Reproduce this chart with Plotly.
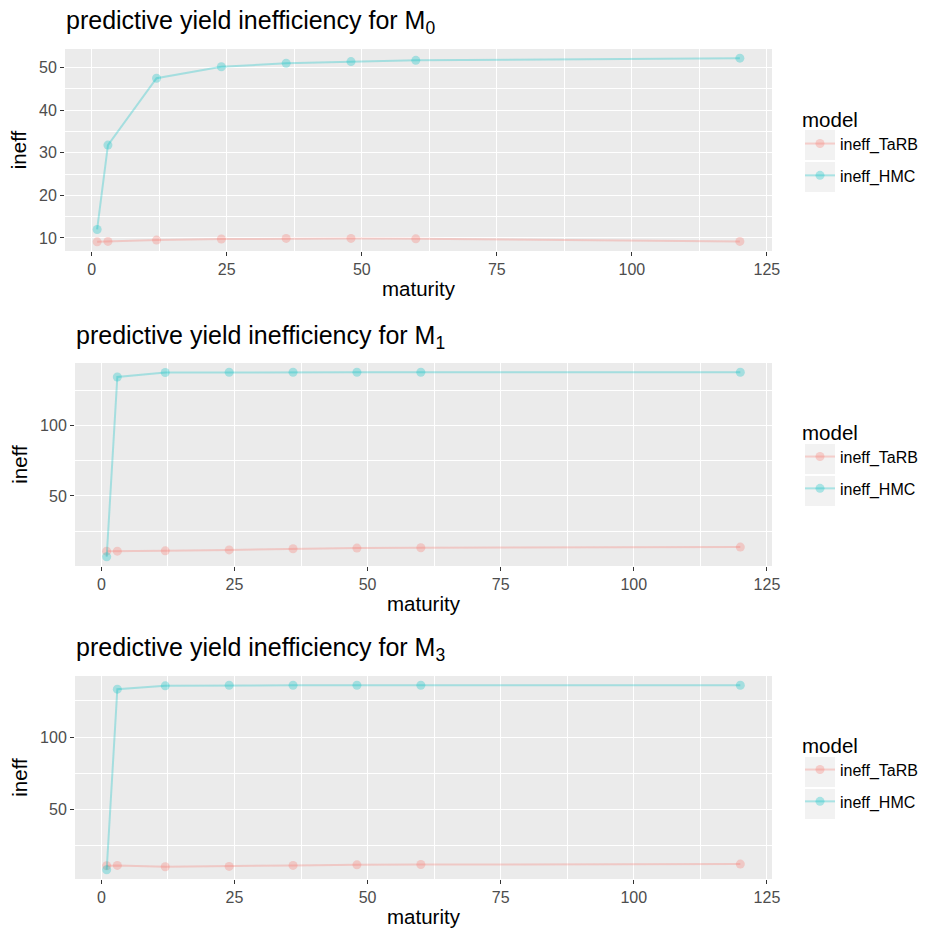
import plotly.graph_objects as go

W, H = 925, 935

maturity = [1, 3, 12, 24, 36, 48, 60, 120]
m0_tarb = [9.1, 9.2, 9.5, 9.75, 9.9, 9.9, 9.8, 9.2]
m0_hmc = [12.0, 31.8, 47.5, 50.2, 51.0, 51.4, 51.7, 52.2]
m1_tarb = [10.7, 10.7, 10.9, 11.6, 12.4, 12.9, 13.1, 13.6]
m1_hmc = [6.7, 134.7, 137.9, 138.1, 138.1, 138.1, 138.1, 138.1]
m3_tarb = [11.3, 11.5, 10.6, 10.8, 11.5, 11.9, 12.1, 12.4]
m3_hmc = [8.5, 133.0, 135.3, 135.7, 135.7, 135.7, 135.7, 135.7]

series_names = ["ineff_TaRB", "ineff_HMC"]
titles = ["predictive yield inefficiency for M<sub>0</sub>",
          "predictive yield inefficiency for M<sub>1</sub>",
          "predictive yield inefficiency for M<sub>3</sub>"]
x_ticks = [0, 25, 50, 75, 100, 125]
y_ticks = [[10, 20, 30, 40, 50], [50, 100], [50, 100]]

panels = [(m0_tarb, m0_hmc), (m1_tarb, m1_hmc), (m3_tarb, m3_hmc)]

line_cols = ["rgba(248,118,109,0.3)", "rgba(0,191,196,0.3)"]

FONT = "Liberation Sans, Arial, Helvetica, sans-serif"

# panel geometry in page pixels (left, right, top, bottom)
geom = [(65, 772, 49, 251), (75, 772, 363, 566), (75, 772, 676, 879)]
title_y = [22, 337, 649]
legend_top = [100, 413, 726]
key_top = [130, 444, 757]

def px_x(p):
    return p / W

def px_y(p):
    return 1 - p / H

fig = go.Figure()
layout = dict(
    width=W, height=H,
    margin=dict(l=0, r=0, t=0, b=0),
    paper_bgcolor="white",
    plot_bgcolor="#EBEBEB",
    font=dict(family=FONT, color="#000000"),
    showlegend=True,
)
annotations = []
shapes = []

xmin, xmax = min(maturity), max(maturity)
xpad = (xmax - xmin) * 0.05

for i, (tarb, hmc) in enumerate(panels):
    idx = "" if i == 0 else str(i + 1)
    leg = "legend" if i == 0 else f"legend{i+1}"
    for j, (vals, name) in enumerate(zip((tarb, hmc), series_names)):
        fig.add_trace(go.Scatter(
            x=maturity, y=vals, name=name, mode="lines+markers",
            xaxis="x" + idx, yaxis="y" + idx,
            line=dict(color=line_cols[j], width=2),
            marker=dict(color=line_cols[j], size=9),
            legend=leg, legendgroup=f"g{i}_{j}",
        ))
    allv = tarb + hmc
    lo, hi = min(allv), max(allv)
    pad = (hi - lo) * 0.05
    l, r, t, b = geom[i]
    layout["xaxis" + idx] = dict(
        domain=[px_x(l), px_x(r)], anchor="y" + idx, automargin=False,
        range=[xmin - xpad, xmax + xpad],
        tickvals=x_ticks, ticks="outside", ticklen=4, tickcolor="#333333",
        tickfont=dict(size=16, color="#4D4D4D"),
        showgrid=True, gridcolor="white", gridwidth=1.2,
        minor=dict(dtick=12.5, tick0=0, showgrid=True, gridcolor="white", gridwidth=0.6, ticks=""),
        zeroline=False, showline=False,
        title=dict(text="maturity", font=dict(size=20.5, color="#000000"), standoff=4),
    )
    layout["yaxis" + idx] = dict(
        domain=[px_y(b), px_y(t)], anchor="x" + idx, automargin=False,
        range=[lo - pad, hi + pad],
        tickvals=y_ticks[i], ticks="outside", ticklen=4, tickcolor="#333333",
        tickfont=dict(size=16, color="#4D4D4D"),
        showgrid=True, gridcolor="white", gridwidth=1.2,
        minor=dict(dtick=y_ticks[i][1] - y_ticks[i][0], tick0=(y_ticks[i][1] - y_ticks[i][0]) / 2,
                   showgrid=True, gridcolor="white", gridwidth=0.6, ticks=""),
        zeroline=False, showline=False,
        title=dict(text="ineff", font=dict(size=20.5, color="#000000"), standoff=6),
    )
    annotations.append(dict(
        text=titles[i], xref="paper", yref="paper",
        x=px_x(l - 1), y=px_y(title_y[i]), xanchor="left", yanchor="middle",
        showarrow=False, font=dict(size=25, color="#000000"),
    ))
    for k in range(2):
        y0 = key_top[i] + k * 32
        shapes.append(dict(
            type="rect", xref="paper", yref="paper", layer="below",
            x0=px_x(805), x1=px_x(835), y0=px_y(y0 + 30), y1=px_y(y0),
            fillcolor="#F2F2F2", line=dict(width=0),
        ))
    layout[leg] = dict(
        x=px_x(800), y=px_y(legend_top[i]), xanchor="left", yanchor="top",
        title=dict(text="model", font=dict(size=20.5, color="#000000")),
        font=dict(size=16, color="#000000"),
        bgcolor="rgba(0,0,0,0)", tracegroupgap=8, itemwidth=30,
        traceorder="grouped",
    )

layout["annotations"] = annotations
layout["shapes"] = shapes
fig.update_layout(**layout)
fig.write_html(
    "out.html",
    config={"displayModeBar": False},
    post_script="document.body.style.margin='0';document.body.style.overflow='hidden';",
)
